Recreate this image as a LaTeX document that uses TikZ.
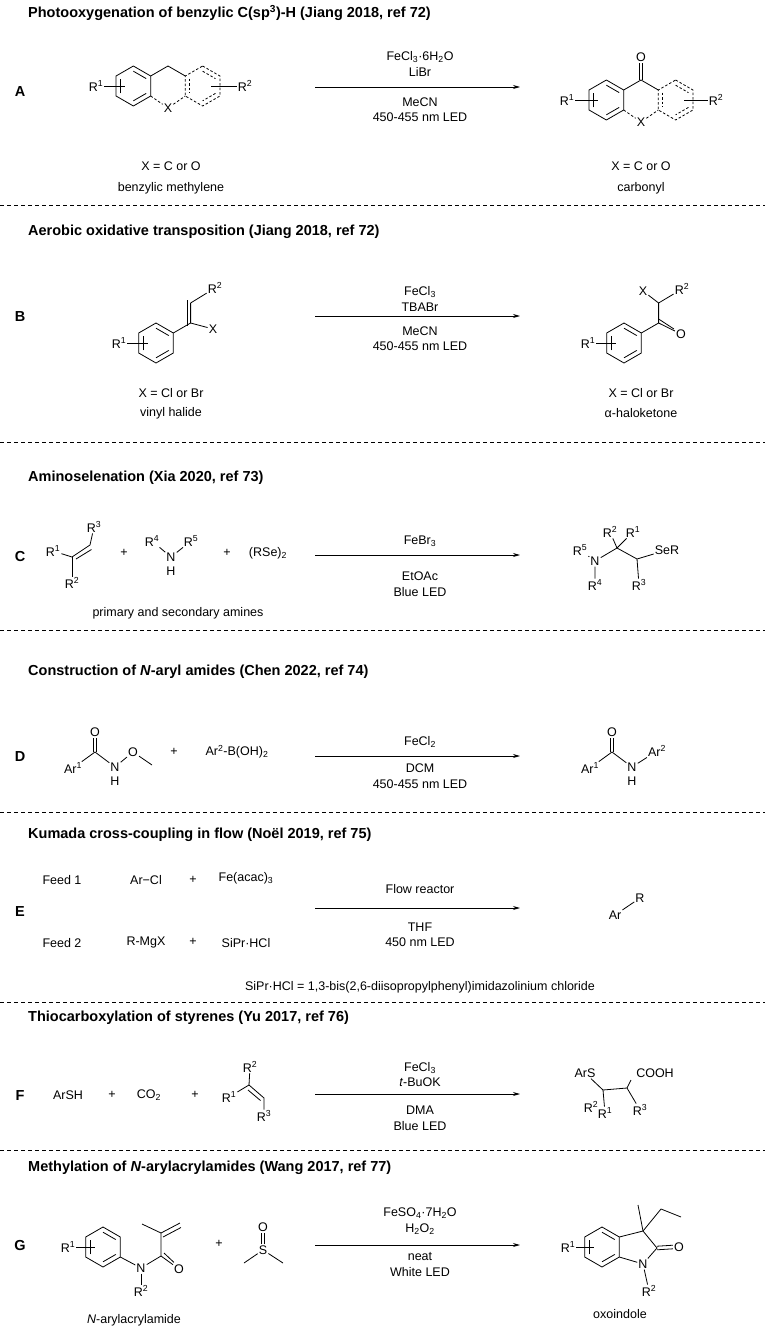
\documentclass[tikz,border=0pt]{standalone}
\usepackage{fontspec}
\setmainfont{Liberation Sans}
\usetikzlibrary{calc,arrows.meta}
\newcommand\mkring[3]{\coordinate (#1) at (#2,#3);
 \foreach \a/\n in {-90/t,-30/tr,30/br,90/b,150/bl,-150/tl}{\coordinate (#1\n) at ($(#1)+(\a:20)$);}}
\newcommand\ringdraw[2][]{\draw[bond,#1] (#2t)--(#2tr)--(#2br)--(#2b)--(#2bl)--(#2tl)--cycle;}
\newcommand\dbl[4][]{\draw[bond,#1] ($(#2)!0.74!(#2#3)$)--($(#2)!0.74!(#2#4)$);}
\newcommand\sub[1]{\textsubscript{#1}}
\newcommand\sups[1]{\textsuperscript{#1}}
\begin{document}
\begin{tikzpicture}[x=1pt,y=-1pt,
  bond/.style={line width=0.8pt},
  txt/.style={inner sep=0.5pt,font=\fontsize{12.5}{15}\selectfont},
  atom/.style={inner sep=1pt,font=\fontsize{12.5}{15}\selectfont},
  ttl/.style={anchor=west,inner sep=0pt,font=\fontsize{14.5}{17}\selectfont\bfseries},
  lab/.style={inner sep=0pt,font=\fontsize{14.5}{17}\selectfont\bfseries},
  sep/.style={line width=0.6pt,dash pattern=on 4pt off 3pt},
  rxn/.style={line width=0.8pt,-{Stealth[length=7pt,width=4pt]}},
  dsh/.style={dash pattern=on 2.5pt off 2pt}]
\useasboundingbox (0,0) rectangle (765,1328);
% separators
\foreach \yy [count=\i] in {205,442,630,812,1002,1150}{\coordinate (sl\i) at (0,\yy);\coordinate (sr\i) at (765,\yy);\draw[sep] (sl\i)--(sr\i);}
% titles
\node[ttl] (tA) at (28,13) {Photooxygenation of benzylic C(sp\sups{3})-H (Jiang 2018, ref 72)};
\node[ttl] (tB) at (28,232) {Aerobic oxidative transposition (Jiang 2018, ref 72)};
\node[ttl] (tC) at (28,478) {Aminoselenation (Xia 2020, ref 73)};
\node[ttl] (tD) at (28,672) {Construction of \textit{N}-aryl amides (Chen 2022, ref 74)};
\node[ttl] (tE) at (28,835) {Kumada cross-coupling in flow (Noël 2019, ref 75)};
\node[ttl] (tF) at (28,1018) {Thiocarboxylation of styrenes (Yu 2017, ref 76)};
\node[ttl] (tG) at (28,1168) {Methylation of \textit{N}-arylacrylamides (Wang 2017, ref 77)};
% labels
\node[lab] (lA) at (20,92) {A};
\node[lab] (lB) at (20,317) {B};
\node[lab] (lC) at (20,557) {C};
\node[lab] (lD) at (20,757) {D};
\node[lab] (lE) at (20,912) {E};
\node[lab] (lF) at (20,1095) {F};
\node[lab] (lG) at (20,1245) {G};
% arrows
\foreach \yy/\n in {87/A,316/B,555/C,756/D,908/E,1094/F,1245/G}{\coordinate (as\n) at (315,\yy);\coordinate (ae\n) at (520,\yy);\draw[rxn] (as\n)--(ae\n);}

%%%%% A
\mkring{AM}{168}{86}\mkring{AL}{133.36}{86}\mkring{AR}{202.64}{86}
\ringdraw{AL}\dbl{AL}{t}{tr}\dbl{AL}{br}{b}\dbl{AL}{bl}{tl}
\draw[bond] (AMtl)--(AMt)--(AMtr);
\ringdraw[dsh]{AR}\dbl[dsh]{AR}{tl}{bl}\dbl[dsh]{AR}{t}{tr}\dbl[dsh]{AR}{br}{b}
\node[atom] (AX) at ($(AMb)+(0,2)$) {X};
\draw[bond,dsh] (AMbl)--(AX)--(AMbr);
\node[atom] (AR1) at (96,86) {R\sups{1}};
\coordinate (AR1e) at (125,86);\draw[bond] (AR1)--(AR1e);
\node[atom] (AR2) at (245,86) {R\sups{2}};
\coordinate (AR2e) at (211,86);\draw[bond] (AR2)--(AR2e);
\node[txt] (AXa) at (171,166) {X = C or O};
\node[txt] (AXb) at (171,188) {benzylic methylene};
% reagents
\node[txt] (Ag1) at (420,57) {FeCl\sub{3}·6H\sub{2}O};
\node[txt] (Ag2) at (420,72) {LiBr};
\node[txt] (Ag3) at (420,102) {MeCN};
\node[txt] (Ag4) at (420,117) {450-455 nm LED};
% product
\mkring{PM}{641}{100}\mkring{PL}{606.36}{100}\mkring{PR}{675.64}{100}
\ringdraw{PL}\dbl{PL}{t}{tr}\dbl{PL}{br}{b}\dbl{PL}{bl}{tl}
\draw[bond] (PMtl)--(PMt)--(PMtr);
\ringdraw[dsh]{PR}\dbl[dsh]{PR}{tl}{bl}\dbl[dsh]{PR}{t}{tr}\dbl[dsh]{PR}{br}{b}
\node[atom] (PX) at ($(PMb)+(0,2)$) {X};
\draw[bond,dsh] (PMbl)--(PX)--(PMbr);
\node[atom] (PO) at (641,57) {O};
\draw[bond] ([xshift=-1.8pt]PMt)--([xshift=-1.8pt]PO.south);
\draw[bond] ([xshift=1.8pt]PMt)--([xshift=1.8pt]PO.south);
\node[atom] (PR1) at (567,100) {R\sups{1}};
\coordinate (PR1e) at (598,100);\draw[bond] (PR1)--(PR1e);
\node[atom] (PR2) at (716,100) {R\sups{2}};
\coordinate (PR2e) at (684,100);\draw[bond] (PR2)--(PR2e);
\node[txt] (PXa) at (641,166) {X = C or O};
\node[txt] (PXb) at (641,188) {carbonyl};

%%%%% B
\mkring{BP}{156}{343}
\ringdraw{BP}\dbl{BP}{t}{tr}\dbl{BP}{br}{b}\dbl{BP}{bl}{tl}
\coordinate (Bv1) at (190.6,323);\coordinate (Bv2) at (190.6,303);
\draw[bond] (BPtr)--(Bv1)--(Bv2);
\draw[bond] ([xshift=-3.5pt,yshift=-3pt]Bv1)--([xshift=-3.5pt,yshift=3pt]Bv2);
\node[atom] (BR2) at (215,288) {R\sups{2}};
\draw[bond] (Bv2)--(BR2);
\node[atom] (BX) at (213,329) {X};
\draw[bond] (Bv1)--(BX);
\node[atom] (BR1) at (119,343) {R\sups{1}};
\coordinate (BR1e) at (148,343);\draw[bond] (BR1)--(BR1e);
\node[txt] (BXa) at (171,393) {X = Cl or Br};
\node[txt] (BXb) at (171,413) {vinyl halide};
\node[txt] (Bg1) at (420,292) {FeCl\sub{3}};
\node[txt] (Bg2) at (420,307) {TBABr};
\node[txt] (Bg3) at (420,331) {MeCN};
\node[txt] (Bg4) at (420,346) {450-455 nm LED};
\mkring{BQ}{624}{343}
\ringdraw{BQ}\dbl{BQ}{t}{tr}\dbl{BQ}{br}{b}\dbl{BQ}{bl}{tl}
\coordinate (Bc1) at (658.6,323);\coordinate (Bc2) at (658.6,303);
\draw[bond] (BQtr)--(Bc1)--(Bc2);
\node[atom] (BO) at (681,334) {O};
\draw[bond] (Bc1)--(BO);
\draw[bond] ([yshift=4pt]Bc1)--([xshift=-1pt,yshift=5pt]BO.west);
\node[atom] (BPX) at (643,291) {X};
\node[atom] (BPR2) at (682,289) {R\sups{2}};
\draw[bond] (BPX)--(Bc2)--(BPR2);
\node[atom] (BPR1) at (588,343) {R\sups{1}};
\coordinate (BPR1e) at (616,343);\draw[bond] (BPR1)--(BPR1e);
\node[txt] (BPXa) at (641,393) {X = Cl or Br};
\node[txt] (BPXb) at (641,413) {α-haloketone};

%%%%% C
\node[atom] (CR1) at (53,551) {R\sups{1}};
\coordinate (Cc1) at (72,557);\coordinate (Cc2) at (90,545);
\node[atom] (CR3) at (94,527) {R\sups{3}};
\node[atom] (CR2) at (72,583) {R\sups{2}};
\draw[bond] (CR1)--(Cc1)--(Cc2)--(CR3);
\draw[bond] (Cc1)--(CR2);
\draw[bond] ($(Cc1)+(4,2)$)--($(Cc2)+(1.5,4.5)$);
\node[txt] (Cp1) at (124,553) {+};
\node[atom] (CN) at (171,557) {N};
\node[atom] (CR4) at (152,541) {R\sups{4}};
\node[atom] (CR5) at (191,541) {R\sups{5}};
\node[atom] (CH) at (171,571) {H};
\draw[bond] (CR4)--(CN)--(CR5);
\node[txt] (Cp2) at (227,553) {+};
\node[txt] (CSe) at (268,553) {(RSe)\sub{2}};
\node[txt] (Cam) at (178,613) {primary and secondary amines};
\node[txt] (Cg1) at (420,541) {FeBr\sub{3}};
\node[txt] (Cg2) at (420,576) {EtOAc};
\node[txt] (Cg3) at (420,592) {Blue LED};
\node[atom] (CPR5) at (580,550) {R\sups{5}};
\node[atom] (CPN) at (595,561) {N};
\node[atom] (CPR4) at (595,585) {R\sups{4}};
\coordinate (CPq) at (617,548);\coordinate (CPc) at (637,559);
\node[atom] (CPR2) at (610,532) {R\sups{2}};
\node[atom] (CPR1) at (633,532) {R\sups{1}};
\node[atom] (CPSe) at (667,550) {SeR};
\node[atom] (CPR3) at (639,585) {R\sups{3}};
\draw[bond] (CPR5)--(CPN)--(CPR4);
\draw[bond] (CPN)--(CPq)--(CPc)--(CPSe);
\draw[bond] (CPc)--(CPR3);
\draw[bond] (CPq)--(CPR2);\draw[bond] (CPq)--(CPR1);

%%%%% D
\node[atom] (DAr) at (73,768) {Ar\sups{1}};
\coordinate (DC) at (95,752);
\node[atom] (DO) at (95,732) {O};
\node[atom] (DN) at (115,767) {N};
\node[atom] (DH) at (115,781) {H};
\node[atom] (DO2) at (133,752) {O};
\coordinate (DMe) at (152,765);
\draw[bond] (DAr)--(DC)--(DN)--(DO2)--(DMe);
\draw[bond] ([xshift=-1.8pt]DC)--([xshift=-1.8pt]DO.south);
\draw[bond] ([xshift=1.8pt]DC)--([xshift=1.8pt]DO.south);
\node[txt] (Dp) at (174,752) {+};
\node[txt] (DB) at (237,752) {Ar\sups{2}-B(OH)\sub{2}};
\node[txt] (Dg1) at (420,742) {FeCl\sub{2}};
\node[txt] (Dg2) at (420,768) {DCM};
\node[txt] (Dg3) at (420,784) {450-455 nm LED};
\node[atom] (DPAr) at (590,768) {Ar\sups{1}};
\coordinate (DPC) at (612,752);
\node[atom] (DPO) at (612,732) {O};
\node[atom] (DPN) at (632,767) {N};
\node[atom] (DPH) at (632,781) {H};
\node[atom] (DPAr2) at (657,751) {Ar\sups{2}};
\draw[bond] (DPAr)--(DPC)--(DPN)--(DPAr2);
\draw[bond] ([xshift=-1.8pt]DPC)--([xshift=-1.8pt]DPO.south);
\draw[bond] ([xshift=1.8pt]DPC)--([xshift=1.8pt]DPO.south);

%%%%% E
\node[txt] (Ef1) at (62,880) {Feed 1};
\node[txt] (Ea1) at (146,880) {Ar−Cl};
\node[txt] (Ep1) at (193,880) {+};
\node[txt] (Ef) at (246,878) {Fe(acac)\sub{3}};
\node[txt] (Ef2) at (62,943) {Feed 2};
\node[txt] (Ea2) at (146,942) {R-MgX};
\node[txt] (Ep2) at (193,942) {+};
\node[txt] (Es) at (246,943) {SiPr·HCl};
\node[txt] (Eg1) at (420,889) {Flow reactor};
\node[txt] (Eg2) at (420,927) {THF};
\node[txt] (Eg3) at (420,942) {450 nm LED};
\node[atom] (EAr) at (615,915) {Ar};
\node[atom] (ER) at (640,898) {R};
\draw[bond] (EAr)--(ER);
\node[txt] (Edef) at (420,987) {SiPr·HCl = 1,3-bis(2,6-diisopropylphenyl)imidazolinium chloride};

%%%%% F
\node[txt] (Fa) at (68,1095) {ArSH};
\node[txt] (Fp1) at (112,1095) {+};
\node[txt] (Fc) at (149,1095) {CO\sub{2}};
\node[txt] (Fp2) at (195,1095) {+};
\node[atom] (FR1) at (229,1097) {R\sups{1}};
\coordinate (Fc1) at (249,1085);\coordinate (Fc2) at (264,1098);
\node[atom] (FR2) at (250,1067) {R\sups{2}};
\node[atom] (FR3) at (264,1116) {R\sups{3}};
\draw[bond] (FR1)--(Fc1)--(Fc2)--(FR3);
\draw[bond] (Fc1)--(FR2);
\draw[bond] ($(Fc1)+(-1,5)$)--($(Fc2)+(-3.5,2.5)$);
\node[txt] (Fg1) at (420,1068) {FeCl\sub{3}};
\node[txt] (Fg2) at (420,1082) {\textit{t}-BuOK};
\node[txt] (Fg3) at (420,1110) {DMA};
\node[txt] (Fg4) at (420,1126) {Blue LED};
\node[atom] (FPAS) at (585,1073) {ArS};
\node[atom] (FPCO) at (655,1073) {COOH};
\coordinate (FPc1) at (603,1090);\coordinate (FPc2) at (627,1088);
\coordinate (FPc2u) at (631,1080);
\node[atom] (FPR2) at (591,1107) {R\sups{2}};
\node[atom] (FPR1) at (605,1113) {R\sups{1}};
\node[atom] (FPR3) at (640,1110) {R\sups{3}};
\draw[bond] (FPAS)--(FPc1);
\draw[bond] (FPc1)--(FPc2);
\draw[bond] (FPc2)--(FPc2u);
\draw[bond] (FPc2)--(FPR3);
\draw[bond] (FPc1)--(FPR1);

%%%%% G
\mkring{GA}{103}{1247}
\ringdraw{GA}\dbl{GA}{t}{tr}\dbl{GA}{br}{b}\dbl{GA}{bl}{tl}
\node[atom] (GR1) at (68,1247) {R\sups{1}};
\coordinate (GR1e) at (95,1247);\draw[bond] (GR1)--(GR1e);
\node[atom] (GN) at (141,1268) {N};
\coordinate (GC) at (161,1256);\coordinate (GCa) at (161,1233);
\coordinate (GMe) at (142,1224);\coordinate (GCH2) at (180,1223);
\node[atom] (GO) at (179,1269) {O};
\node[atom] (GR2) at (141,1291) {R\sups{2}};
\draw[bond] (GAbr)--(GN)--(GC)--(GCa)--(GMe);
\draw[bond] (GCa)--(GCH2);
\draw[bond] ($(GCa)+(2,4)$)--($(GCH2)+(1,4.5)$);
\draw[bond] (GC)--(GO);
\draw[bond] ($(GC)+(3,-3)$)--($(GO.north west)+(1,-1)$);
\draw[bond] (GN)--(GR2);
\node[txt] (Gam) at (134,1320) {\textit{N}-arylacrylamide};
\node[txt] (Gp) at (219,1244) {+};
\node[atom] (GS) at (263,1250) {S};
\node[atom] (GSO) at (263,1227) {O};
\coordinate (GSm1) at (244,1263);\coordinate (GSm2) at (283,1263);
\draw[bond] (GSm1)--(GS)--(GSm2);
\draw[bond] ([xshift=-1.6pt]GS.north)--([xshift=-1.6pt]GSO.south);
\draw[bond] ([xshift=1.6pt]GS.north)--([xshift=1.6pt]GSO.south);
\node[txt] (Gg1) at (420,1213) {FeSO\sub{4}·7H\sub{2}O};
\node[txt] (Gg2) at (420,1229) {H\sub{2}O\sub{2}};
\node[txt] (Gg3) at (420,1257) {neat};
\node[txt] (Gg4) at (420,1272) {White LED};
\mkring{GB}{602}{1247}
\ringdraw{GB}\dbl{GB}{t}{tr}\dbl{GB}{br}{b}\dbl{GB}{bl}{tl}
\node[atom] (GPR1) at (568,1247) {R\sups{1}};
\coordinate (GPR1e) at (594,1247);\draw[bond] (GPR1)--(GPR1e);
\coordinate (G3) at (643,1231);\coordinate (G2) at (657,1248);
\node[atom] (GPN) at (643,1264) {N};
\node[atom] (GPO) at (679,1247) {O};
\coordinate (GMe3) at (638,1205);\coordinate (GEt1) at (661,1209);\coordinate (GEt2) at (681,1217);
\draw[bond] (GBtr)--(G3)--(G2)--(GPN)--(GBbr);
\draw[bond] (G3)--(GMe3);\draw[bond] (G3)--(GEt1)--(GEt2);
\draw[bond] ([yshift=-1.8pt]G2)--([yshift=-1.8pt]GPO.west);
\draw[bond] ([yshift=1.8pt]G2)--([yshift=1.8pt]GPO.west);
\node[atom] (GPR2) at (649,1291) {R\sups{2}};
\draw[bond] (GPN)--(GPR2);
\node[txt] (Gox) at (620,1314) {oxoindole};
\end{tikzpicture}
\end{document}
